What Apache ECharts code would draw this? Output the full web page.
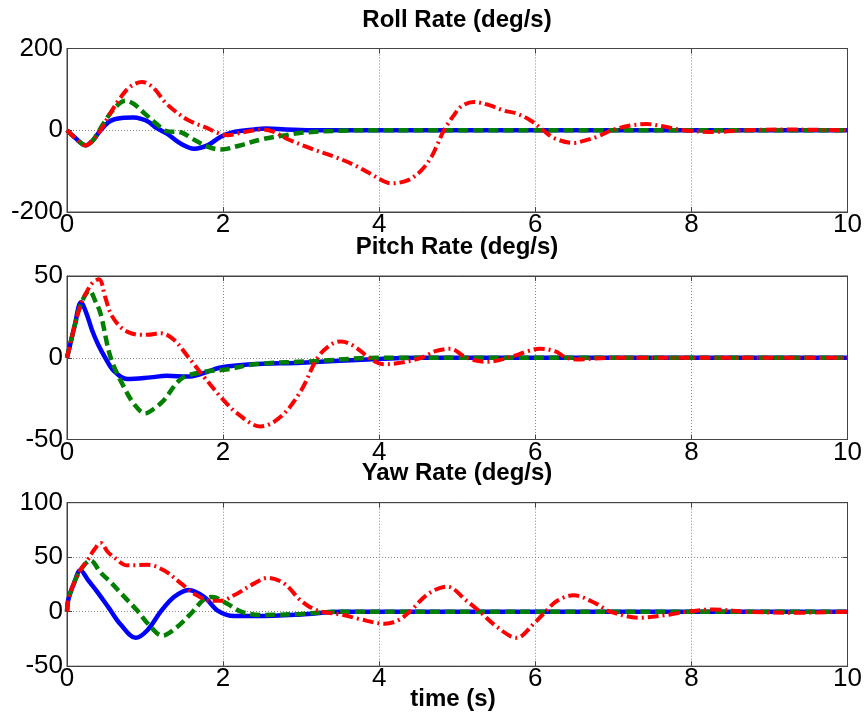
<!DOCTYPE html>
<html><head><meta charset="utf-8">
<script src="https://cdn.jsdelivr.net/npm/echarts@6/dist/echarts.min.js"></script>
<style>html,body{margin:0;padding:0;background:#fff}#c{width:865px;height:722px}</style>
</head><body><div id="c"></div>
<script>
// ---- data (time s, rate deg/s) ----
const titles = ['Roll Rate (deg/s)', 'Pitch Rate (deg/s)', 'Yaw Rate (deg/s)'];
const xLabel = 'time (s)';
const xTicks = [0, 2, 4, 6, 8, 10];
const yRanges = [[-200, 200, 200], [-50, 50, 50], [-50, 100, 50]];

const blueRoll = [[0,0],[0.1,-18],[0.24,-37],[0.33,-25],[0.43,0],[0.55,22],[0.7,30],[0.85,31],[0.95,28],[1.05,20],[1.15,5],[1.28,-8],[1.46,-33],[1.63,-45],[1.8,-37],[1.97,-16],[2.14,-4],[2.4,2],[2.55,4],[2.8,2],[3.2,0],[10,0]];
const greenRoll = [[0,0],[0.1,-18],[0.24,-37],[0.33,-25],[0.43,5],[0.55,40],[0.65,62],[0.75,72],[0.85,65],[1.0,40],[1.15,15],[1.28,-2],[1.46,-5],[1.6,-20],[1.8,-40],[1.97,-47],[2.2,-38],[2.5,-22],[2.8,-12],[3.0,-6],[3.5,-1],[4,0],[10,0]];
const redRoll = [[0,0],[0.1,-18],[0.24,-37],[0.33,-25],[0.43,0],[0.55,40],[0.66,73],[0.8,105],[0.96,118],[1.1,105],[1.25,70],[1.37,49],[1.55,25],[1.76,8],[2.06,-12],[2.25,-5],[2.4,0],[2.5,2],[2.65,-4],[2.83,-22],[3.13,-45],[3.43,-65],[3.68,-85],[3.9,-108],[4.05,-124],[4.15,-130],[4.37,-122],[4.54,-98],[4.67,-65],[4.75,-33],[4.83,0],[4.95,35],[5.05,58],[5.21,69],[5.4,62],[5.6,48],[5.76,41],[5.94,24],[6.1,0],[6.25,-20],[6.49,-31],[6.65,-24],[6.79,-16],[6.98,0],[7.2,11],[7.43,15],[7.65,9],[7.9,0],[8.3,-4],[8.7,0],[9.2,2],[9.6,1],[10,0]];

const bluePitch = [[0,0],[0.04,8],[0.1,20],[0.18,34],[0.25,27],[0.32,17],[0.4,8],[0.49,0],[0.6,-8],[0.77,-13],[1.07,-12],[1.28,-11],[1.54,-11.5],[1.71,-10],[1.97,-6],[2.36,-4],[3.0,-3],[3.85,-1],[4.5,0],[10,0]];
const greenPitch = [[0,0],[0.04,8],[0.1,20],[0.18,33],[0.29,41],[0.36,35],[0.43,27],[0.56,0],[0.73,-18],[0.87,-29],[1.0,-34],[1.12,-31],[1.24,-26],[1.46,-13],[1.71,-9],[2.06,-7],[2.4,-4],[3.2,-2],[4,0],[10,0]];
const redPitch = [[0,0],[0.04,8],[0.1,20],[0.18,33],[0.26,41],[0.33,46],[0.41,48],[0.49,37],[0.56,27],[0.66,20],[0.77,16],[0.94,14],[1.03,14],[1.2,15],[1.37,11],[1.56,0],[1.76,-12],[1.97,-24],[2.18,-34],[2.48,-42],[2.74,-36],[3.0,-20],[3.21,0],[3.38,8],[3.51,10],[3.68,7],[3.9,-1],[4.07,-4],[4.28,-3],[4.54,0],[4.72,4],[4.91,5.5],[5.12,0],[5.38,-2.5],[5.72,1],[5.9,4],[6.06,5.5],[6.25,4],[6.4,0],[6.53,-1],[7,0],[10,0]];

const blueYaw = [[0,0],[0.02,12],[0.1,28],[0.17,38],[0.28,28],[0.39,18],[0.54,3],[0.69,-12],[0.88,-24],[1.03,-17],[1.2,0],[1.37,13.5],[1.56,20],[1.76,13.5],[1.93,1],[2.14,-4],[2.44,-4],[3.0,-2.5],[3.5,0],[10,0]];
const greenYaw = [[0,0],[0.02,12],[0.1,28],[0.17,38],[0.3,47],[0.43,36],[0.56,27],[0.69,17],[0.9,1],[1.05,-12],[1.22,-22],[1.41,-14],[1.61,0],[1.75,11],[1.86,13.5],[2.06,7],[2.23,0],[2.48,-3],[3.0,-2],[3.5,0],[10,0]];
const redYaw = [[0,0],[0.02,12],[0.1,28],[0.17,38],[0.26,47],[0.35,57],[0.43,63],[0.52,55],[0.6,50],[0.77,42.5],[1.03,43],[1.24,38],[1.46,26],[1.63,16.5],[1.84,10],[1.97,10],[2.14,15],[2.4,26],[2.57,31],[2.78,26],[3.0,10],[3.21,1],[3.51,-2.5],[3.73,-6.4],[4.07,-11],[4.24,-8],[4.39,0],[4.63,16.5],[4.87,23],[5.12,10],[5.29,0],[5.51,-14],[5.76,-24],[5.98,-11],[6.13,0],[6.28,10],[6.49,15],[6.79,7],[6.96,0],[7.34,-5.5],[7.73,-2.5],[7.94,0],[8.28,2],[8.71,0],[9.27,-1],[10,0]];

const panels = [[blueRoll, greenRoll, redRoll], [bluePitch, greenPitch, redPitch], [blueYaw, greenYaw, redYaw]];

// ---- layout / styles ----
const FONT = 'Liberation Sans, Arial, sans-serif';
const gridTops = [48.5, 276, 502.7];
const gridH = 163.5;
const L = 67, W = 780.5;
const styles = [
  {color: '#0000ff', width: 4.5, type: 'solid'},
  {color: '#007f00', width: 4.5, type: [10, 5]},
  {color: '#ff0000', width: 4, type: [11, 4, 2, 4]}
];

const grid = [], xAxis = [], yAxis = [], series = [], title = [];
gridTops.forEach((t, i) => {
  grid.push({left: L, top: t, width: W, height: gridH, show: true, borderColor: '#444', borderWidth: 1, backgroundColor: '#fff'});
  const gl = {show: true, lineStyle: {type: [1, 2], color: '#888', width: 1}};
  const line = {show: true, onZero: false, lineStyle: {color: '#444'}};
  const tick = {show: true, inside: true, length: 5, lineStyle: {color: '#444'}};
  xAxis.push({type: 'value', gridIndex: i, min: 0, max: 10, interval: 2, position: 'bottom',
    axisLine: line, axisTick: tick,
    axisLabel: {show: true, fontFamily: FONT, fontSize: 26, color: '#000', margin: 0, showMinLabel: true, showMaxLabel: true},
    splitLine: gl});
  xAxis.push({type: 'value', gridIndex: i, min: 0, max: 10, interval: 2, position: 'top',
    axisLine: line, axisTick: tick, axisLabel: {show: false}, splitLine: {show: false}});
  const r = yRanges[i];
  yAxis.push({type: 'value', gridIndex: i, min: r[0], max: r[1], interval: r[2], position: 'left',
    axisLine: line, axisTick: tick,
    axisLabel: {show: true, fontFamily: FONT, fontSize: 26, color: '#000', margin: 4, showMinLabel: true, showMaxLabel: true},
    splitLine: gl});
  yAxis.push({type: 'value', gridIndex: i, min: r[0], max: r[1], interval: r[2], position: 'right',
    axisLine: line, axisTick: tick, axisLabel: {show: false}, splitLine: {show: false}});
  panels[i].forEach((d, k) => {
    series.push({type: 'line', xAxisIndex: 2 * i, yAxisIndex: 2 * i, data: d, smooth: 0.35, symbol: 'none',
      lineStyle: styles[k], z: 2 + k, animation: false});
  });
});
const titleTops = [8, 235, 461];
titles.forEach((s, i) => title.push({text: s, left: 457, top: titleTops[i], textAlign: 'center', padding: 0,
  textStyle: {fontFamily: FONT, fontSize: 24, fontWeight: 'bold', color: '#000'}}));
title.push({text: xLabel, left: 453, top: 687, textAlign: 'center', padding: 0,
  textStyle: {fontFamily: FONT, fontSize: 24, fontWeight: 'bold', color: '#000'}});

const chart = echarts.init(document.getElementById('c'), null, {renderer: 'canvas'});
chart.setOption({animation: false, backgroundColor: '#fff', title, grid, xAxis, yAxis, series});
</script></body></html>
